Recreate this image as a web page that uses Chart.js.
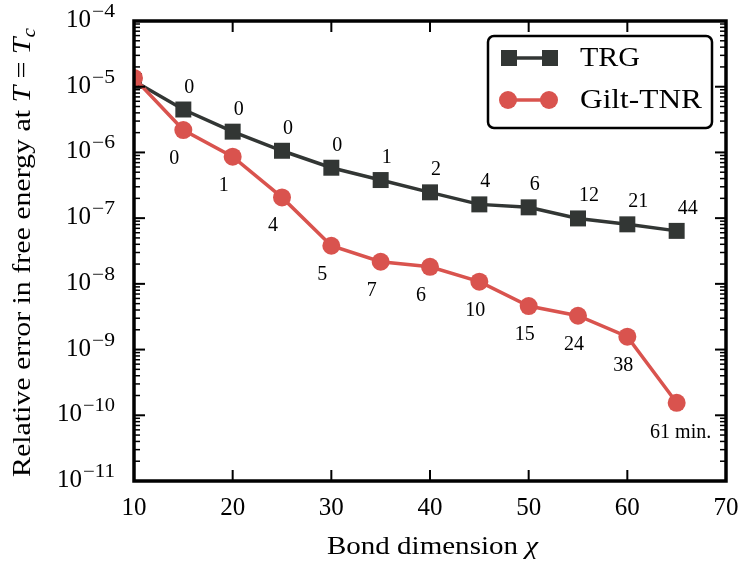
<!DOCTYPE html>
<html><head><meta charset="utf-8">
<script src="https://cdn.jsdelivr.net/npm/chart.js@4.4.0/dist/chart.umd.min.js"></script>
<style>html,body{margin:0;padding:0;background:#fff;}canvas{display:block;}</style>
</head><body>
<canvas id="c" width="739" height="562"></canvas>
<script>
// ---- data ----
const bondDims   = [10, 15, 20, 25, 30, 35, 40, 45, 50, 55, 60, 65];
const trgError   = [1.22e-5, 4.5e-6, 2.07e-6, 1.06e-6, 5.85e-7, 3.8e-7, 2.47e-7, 1.62e-7, 1.46e-7, 9.9e-8, 8.05e-8, 6.4e-8];
const giltError  = [1.36e-5, 2.19e-6, 8.6e-7, 2.07e-7, 3.8e-8, 2.17e-8, 1.82e-8, 1.08e-8, 4.6e-9, 3.27e-9, 1.57e-9, 1.55e-10];
const trgTimes   = ['', '0', '0', '0', '0', '1', '2', '4', '6', '12', '21', '44'];
const giltTimes  = ['', '0', '1', '4', '5', '7', '6', '10', '15', '24', '38', '61 min.'];
const xTickValues = [10, 20, 30, 40, 50, 60, 70];
const yTickExponents = [-4, -5, -6, -7, -8, -9, -10, -11];
const seriesNames = ['TRG', 'Gilt-TNR'];

const TRG_COLOR = '#323634';
const GILT_COLOR = '#d9534e';
const SERIF = '"Liberation Serif", "DejaVu Serif", serif';

function fitSegments(ctx, segs, x, y, targetW, align) {
  let total = 0;
  for (const s of segs) { ctx.font = s.font; s.w = ctx.measureText(s.t).width; total += s.w; }
  const sc = targetW / total;
  ctx.save();
  ctx.translate(x, y);
  ctx.scale(sc, 1);
  let cx = align === 'center' ? -total / 2 : (align === 'right' ? -total : 0);
  ctx.textAlign = 'left';
  ctx.textBaseline = 'alphabetic';
  for (const s of segs) { ctx.font = s.font; ctx.fillText(s.t, cx, s.dy || 0); cx += s.w; }
  ctx.restore();
}

const decor = {
  id: 'decor',
  afterDraw(chart) {
    const ctx = chart.ctx, xs = chart.scales.x, ys = chart.scales.y, a = chart.chartArea;
    ctx.save();
    ctx.strokeStyle = '#000';
    ctx.fillStyle = '#000';
    const seg = (x1, y1, x2, y2) => { ctx.beginPath(); ctx.moveTo(x1, y1); ctx.lineTo(x2, y2); ctx.stroke(); };
    // y ticks (inward, both sides)
    const minE = Math.min(...yTickExponents);
    for (const e of yTickExponents) {
      const yy = ys.getPixelForValue(Math.pow(10, e));
      ctx.lineWidth = 2;
      seg(a.left, yy, a.left + 11, yy);
      seg(a.right - 11, yy, a.right, yy);
      if (e > minE) {
        ctx.lineWidth = 1.5;
        for (let k = 2; k <= 9; k++) {
          const ym = ys.getPixelForValue(k * Math.pow(10, e - 1));
          seg(a.left, ym, a.left + 6, ym);
          seg(a.right - 6, ym, a.right, ym);
        }
      }
    }
    // x ticks (inward, top and bottom)
    ctx.lineWidth = 2;
    for (const v of xTickValues) {
      const xx = xs.getPixelForValue(v);
      seg(xx, a.bottom, xx, a.bottom - 11);
      seg(xx, a.top, xx, a.top + 11);
    }
    // frame
    ctx.lineWidth = 3.5;
    ctx.lineJoin = 'miter';
    ctx.strokeRect(a.left, a.top, a.right - a.left, a.bottom - a.top);

    // x tick labels
    ctx.font = '25px ' + SERIF;
    ctx.textAlign = 'center';
    ctx.textBaseline = 'alphabetic';
    for (const v of xTickValues) {
      ctx.fillText(String(v), xs.getPixelForValue(v), a.bottom + 34);
    }
    // y tick labels 10^{e}
    for (const e of yTickExponents) {
      const yy = ys.getPixelForValue(Math.pow(10, e));
      const sup = '\u2212' + String(-e);
      const supW = 14 + 9 * String(-e).length;
      const right = 115;
      fitSegments(ctx, [{ t: sup, font: '18px ' + SERIF }], right, yy - 4, supW, 'right');
      ctx.font = '25px ' + SERIF;
      ctx.textAlign = 'right';
      ctx.fillText('10', right - supW - 1, yy + 6);
    }
    // axis titles
    fitSegments(ctx, [
      { t: 'Bond dimension ', font: '26px ' + SERIF },
      { t: '\u03c7', font: 'italic 26px ' + SERIF }
    ], 327, 554, 211, 'left');
    ctx.save();
    ctx.translate(30, 252.5);
    ctx.rotate(-Math.PI / 2);
    fitSegments(ctx, [
      { t: 'Relative error in free energy at ', font: '25px ' + SERIF },
      { t: 'T', font: 'italic 25px ' + SERIF },
      { t: ' = ', font: '25px ' + SERIF },
      { t: 'T', font: 'italic 25px ' + SERIF },
      { t: 'c', font: 'italic 18px ' + SERIF, dy: 5 }
    ], 0, 0, 449, 'center');
    ctx.restore();

    // point labels (run times)
    ctx.font = '20px ' + SERIF;
    const m0 = chart.getDatasetMeta(0), m1 = chart.getDatasetMeta(1);
    ctx.textBaseline = 'alphabetic';
    m0.data.forEach((pt, i) => {
      const t = trgTimes[i]; if (!t) return;
      ctx.textAlign = 'left';
      ctx.fillText(t, pt.x + 1, pt.y - 17);
    });
    m1.data.forEach((pt, i) => {
      const t = giltTimes[i]; if (!t) return;
      if (t.indexOf(' ') >= 0) { ctx.textAlign = 'center'; ctx.fillText(t, pt.x + 4, pt.y + 35); }
      else { ctx.textAlign = 'left'; ctx.fillText(t, pt.x - 14, pt.y + 34); }
    });

    // legend
    const lx = 488, ly = 36, lw = 224, lh = 92;
    ctx.beginPath();
    ctx.roundRect(lx, ly, lw, lh, 6);
    ctx.fillStyle = '#fff';
    ctx.fill();
    ctx.lineWidth = 2.5;
    ctx.strokeStyle = '#000';
    ctx.stroke();
    const rows = [58, 100];
    ctx.lineWidth = 3.5;
    ctx.strokeStyle = TRG_COLOR; ctx.fillStyle = TRG_COLOR;
    seg(509, rows[0], 550, rows[0]);
    ctx.fillRect(509 - 8, rows[0] - 8, 16, 16);
    ctx.fillRect(550 - 8, rows[0] - 8, 16, 16);
    ctx.strokeStyle = GILT_COLOR; ctx.fillStyle = GILT_COLOR;
    seg(508, rows[1], 549, rows[1]);
    ctx.beginPath(); ctx.arc(508, rows[1], 9, 0, Math.PI * 2); ctx.fill();
    ctx.beginPath(); ctx.arc(549, rows[1], 9, 0, Math.PI * 2); ctx.fill();
    ctx.fillStyle = '#000';
    fitSegments(ctx, [{ t: seriesNames[0], font: '28px ' + SERIF }], 580, rows[0] + 8, 60, 'left');
    fitSegments(ctx, [{ t: seriesNames[1], font: '28px ' + SERIF }], 580, rows[1] + 8, 122, 'left');
    ctx.restore();
  }
};

new Chart(document.getElementById('c'), {
  type: 'line',
  data: {
    datasets: [
      {
        label: seriesNames[0],
        data: bondDims.map((x, i) => ({ x, y: trgError[i] })),
        borderColor: TRG_COLOR, backgroundColor: TRG_COLOR,
        borderWidth: 3.5, pointStyle: 'rect', pointRadius: 11.3, pointBorderWidth: 0,
        pointBackgroundColor: TRG_COLOR, tension: 0, clip: 0, order: 2
      },
      {
        label: seriesNames[1],
        data: bondDims.map((x, i) => ({ x, y: giltError[i] })),
        borderColor: GILT_COLOR, backgroundColor: GILT_COLOR,
        borderWidth: 3.5, pointStyle: 'circle', pointRadius: 9, pointBorderWidth: 0,
        pointBackgroundColor: GILT_COLOR, tension: 0, clip: 0, order: 1
      }
    ]
  },
  options: {
    responsive: false,
    animation: false,
    events: [],
    devicePixelRatio: 1,
    layout: { padding: { left: 134, right: 13, top: 21, bottom: 81 } },
    plugins: { legend: { display: false }, tooltip: { enabled: false } },
    scales: {
      x: { type: 'linear', min: 10, max: 70, display: false },
      y: { type: 'logarithmic', min: 1e-11, max: 1e-4, display: false }
    }
  },
  plugins: [decor]
});
</script>
</body></html>
